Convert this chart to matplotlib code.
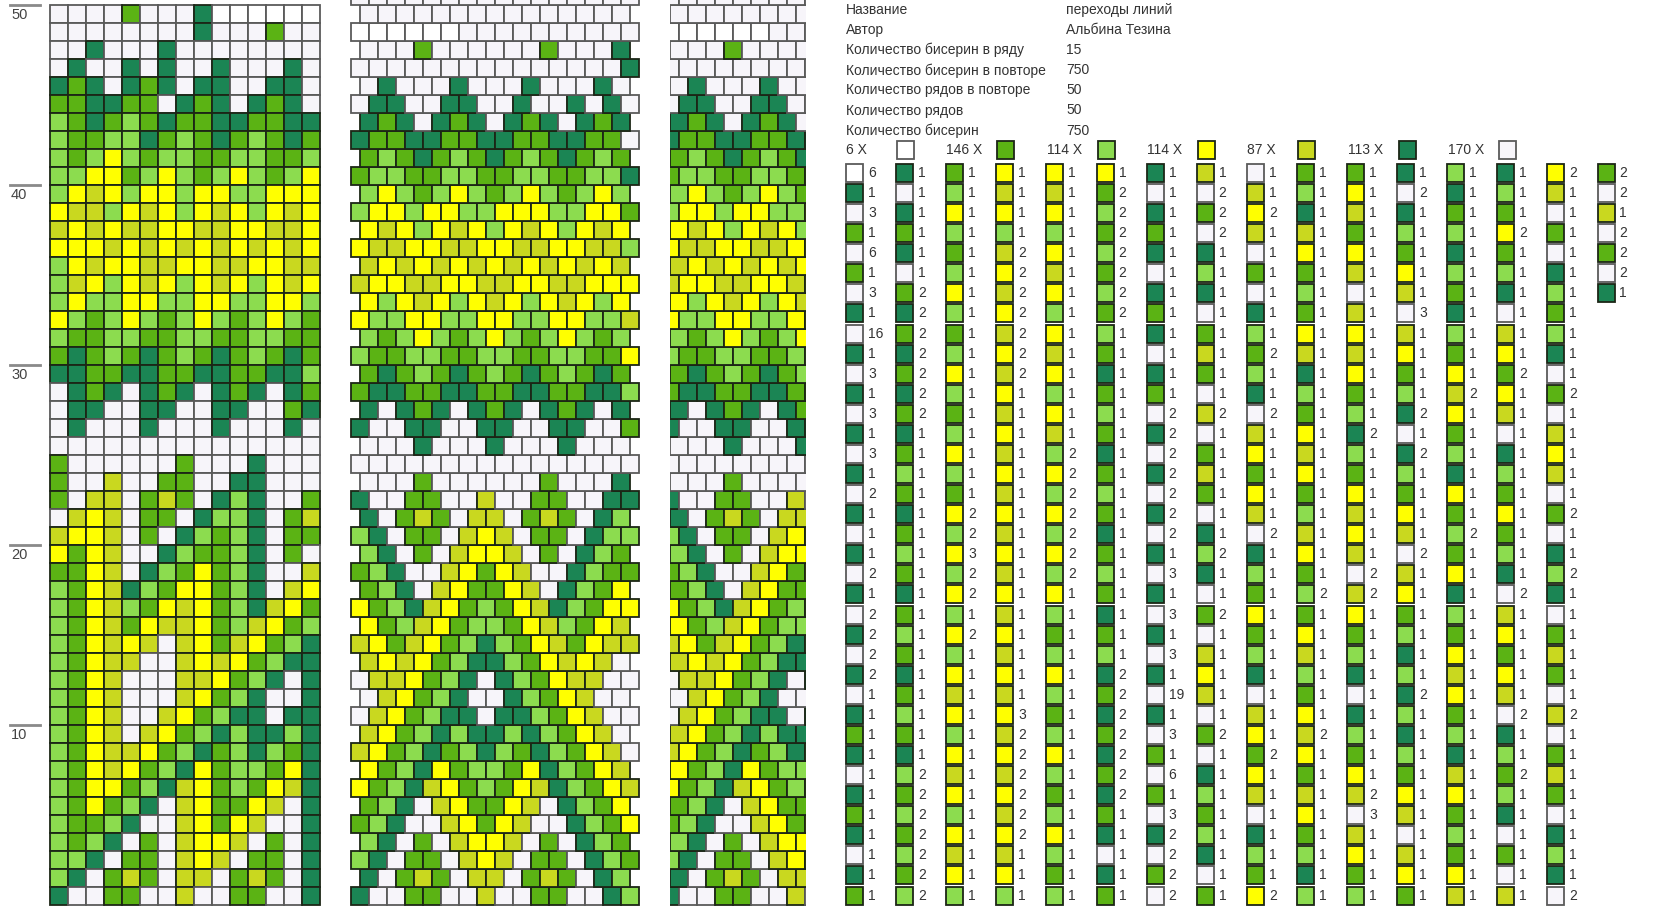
import matplotlib
matplotlib.use("Agg")
import matplotlib.pyplot as plt
from matplotlib.patches import Rectangle

# bead draft, top row (50) first, each string = 15 beads left to right
rows = [
    "eeeemeeedwwwwww",  # 50
    "eeeeeeeedeeemee",
    "eedeeedeeeeeeee",
    "edeededeedeeede",
    "dmdedmdeddeedde",
    "mmddmmedmdedmde",  # 45
    "gmdmgmdmmddmmdd",
    "gmmggdmgmdmgmdm",
    "gmgygmggmmggmmg",
    "ggyymgygmgygmgy",
    "gyoygyygyyggyyy",  # 40
    "yoogyoygyoygyoy",
    "oyoyooyyooyyooy",
    "yyyoyoyoyoyoyoy",
    "gyoyyooyyooyyoo",
    "goygyoygyoygyoy",  # 35
    "gyggyyggyyggyyg",
    "ygmgygmgygmgygm",
    "gmmggmmggmmggmm",
    "mdmgmdmgmdmgmdm",
    "ddmmddmmddmmddg",  # 30
    "edmdedmdedmdedm",
    "eddeeddeeddeemd",
    "edeeedeeedeeede",
    "eeeeeeeeeeeeeee",
    "meeeeeemeeedeee",  # 25
    "meeoeemmeeddeee",
    "meooemomedgdeem",
    "eoyoemmedggdemo",
    "oyyoemedgmgdemm",
    "ymyoeedgmmgdeme",  # 20
    "mmyoedgmymgdeeo",
    "gmyodgmyymgdeoy",
    "gmyogmyoymgdoym",
    "gmyomyooymgoymg",
    "gmyoyoeoymoymgd",  # 15
    "gmyooeeoyoymgdd",
    "gmyoeeeooymgded",
    "gmyoeeeoymgdeed",
    "gmyoeeoymgddedd",
    "gmyoeoymgdgddgd",  # 10
    "gmyooymgdmgdgmd",
    "gmyoymgdymggmyd",
    "gmyymgdoymgmyod",
    "gmymgdeoymmyoed",
    "gmmgdeeoymyoeed",  # 5
    "gmgdemeoyyoemed",
    "ggdemmeoyoemmed",
    "gdemomeooemomed",
    "deemmeeoeemmeed",  # 1
]

colors = {"w": "#ffffff", "e": "#f7f5fa", "d": "#1b8554", "m": "#5bb314",
          "g": "#8cdc4f", "y": "#ffff00", "o": "#c9d81f"}

info_labels = ["Название", "Автор", "Количество бисерин в ряду",
               "Количество бисерин в повторе", "Количество рядов в повторе",
               "Количество рядов", "Количество бисерин"]
info_values = ["переходы линий", "Альбина Тезина", "15", "750", "50", "50", "750"]

legend_keys = ["w", "m", "g", "y", "o", "d", "e"]
legend_counts = [6, 146, 114, 114, 87, 113, 170]

plt.rcParams['font.family'] = ['Liberation Sans', 'DejaVu Sans']

W, H = 1663, 911
fig = plt.figure(figsize=(W / 100, H / 100), dpi=100)
ax = fig.add_axes([0, 0, 1, 1])
ax.set_xlim(0, W)
ax.set_ylim(H, 0)
ax.axis("off")

CELL = 18.0
TOP = 5.0
NR = len(rows)
light = ("w", "e")
TXT = "#333333"


def bead(x, y, c, w=CELL, clip=None):
    ec = "#5a5a5a" if c in light else "#1c2616"
    r = Rectangle((x, y), w, CELL, facecolor=colors[c], edgecolor=ec, lw=1.3)
    ax.add_patch(r)
    if clip is not None:
        r.set_clip_path(clip)


# draft
X0 = 50
for i, row in enumerate(rows):
    for j, c in enumerate(row):
        bead(X0 + j * CELL, TOP + i * CELL, c)

# row ticks
for n in range(10, 51, 10):
    y = TOP + (NR - n) * CELL
    ax.plot([10, 40], [y, y], color="#8a8a8a", lw=2)
    ax.text(11, y + 3, str(n), fontsize=10.5, color="#444", va="top", ha="left")

# bead sequence from row 1 upward
seq = "".join(rows[::-1])
N = len(seq)


# corrected view: rows alternate 16 / 15 beads
def corrected(x0, clip=None, xshift=0.0):
    idx = 0
    k = 0
    while True:
        y = TOP + (NR - 1 - k) * CELL
        if y < -CELL:
            break
        m = 16 if k % 2 == 0 else 15
        off = 0 if m == 16 else CELL / 2
        for j in range(m):
            c = seq[idx + j] if idx + j < N else "e"
            bead(x0 + off + j * CELL + xshift, y, c, clip=clip)
        idx += m
        k += 1


corrected(351)

clip = Rectangle((670, 0), 136, H, transform=ax.transData, facecolor="none", edgecolor="none")
ax.add_patch(clip)
corrected(670, clip=clip, xshift=-9)

# info block
TX, VX = 846, 1066
for i, (lab, val) in enumerate(zip(info_labels, info_values)):
    y = 10 + i * 20.1
    ax.text(TX, y, lab, fontsize=10, color=TXT, va="center")
    ax.text(VX, y, val, fontsize=10, color=TXT, va="center")

# colour counts
for i, (k, n) in enumerate(zip(legend_keys, legend_counts)):
    x = TX + i * 100.3
    ax.text(x, 150, f"{n} X", fontsize=10, color=TXT, va="center")
    ec = "#5a5a5a" if k in light else "#1c2616"
    ax.add_patch(Rectangle((x + 51, 141), 17, 18, facecolor=colors[k], edgecolor=ec, lw=1.3))

# run-length list, reading rows 50 -> 1, right to left
runs = []
for row in rows:
    for c in row[::-1]:
        if runs and runs[-1][0] == c:
            runs[-1][1] += 1
        else:
            runs.append([c, 1])

PER_COL = 37
for i, (c, n) in enumerate(runs):
    col, r = divmod(i, PER_COL)
    x = TX + col * 50.1
    y = 173 + r * 20.07
    ec = "#5a5a5a" if c in light else "#1c2616"
    ax.add_patch(Rectangle((x, y - 9), 17, 18, facecolor=colors[c], edgecolor=ec, lw=1.3))
    ax.text(x + 22, y, str(n), fontsize=10, color=TXT, va="center")

fig.savefig("out.png", dpi=100, facecolor="white")
